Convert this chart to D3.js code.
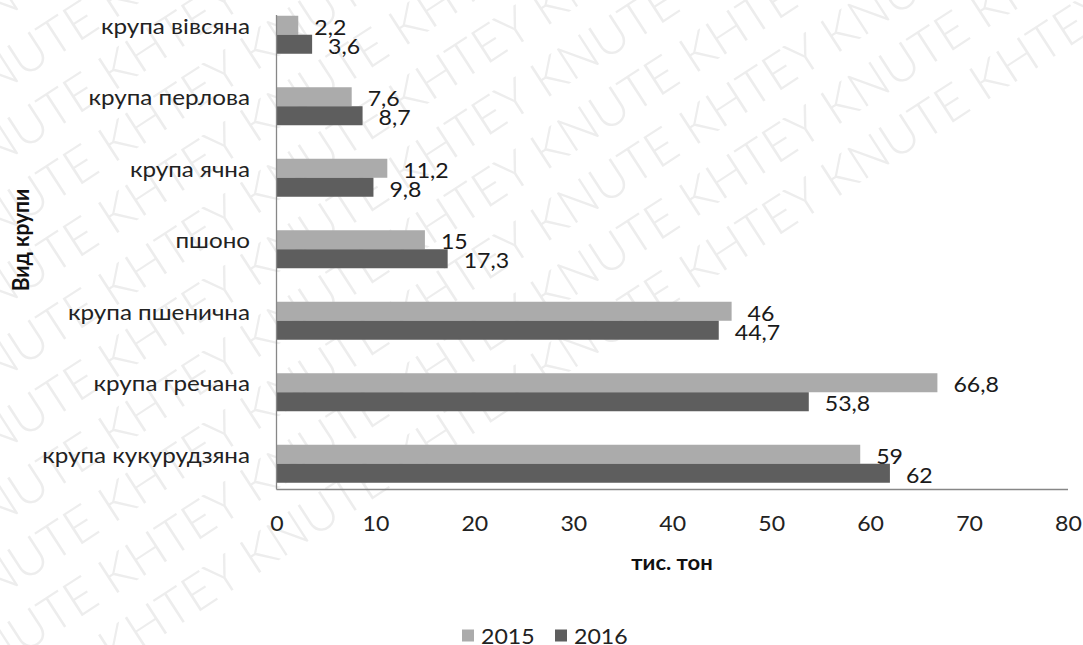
<!DOCTYPE html>
<html>
<head>
<meta charset="utf-8">
<script src="https://cdn.jsdelivr.net/npm/d3@7"></script>
<style>
  html, body { margin: 0; padding: 0; background: #fff; }
  svg { display: block; }
  text { font-family: Lato, "Open Sans", sans-serif; }
</style>
</head>
<body>
<svg id="chart" width="1083" height="645"></svg>
<script>
const categories = ["крупа вівсяна", "крупа перлова", "крупа ячна", "пшоно", "крупа пшенична", "крупа гречана", "крупа кукурудзяна"];
const seriesNames = ["2015", "2016"];
const values2015 = [2.2, 7.6, 11.2, 15, 46, 66.8, 59];
const values2016 = [3.6, 8.7, 9.8, 17.3, 44.7, 53.8, 62];
const xTicks = [0, 10, 20, 30, 40, 50, 60, 70, 80];
const xTitle = "тис. тон";
const yTitle = "Вид крупи";
const watermarkWords = ["KHTEY", "KNUTE"];

const colors = ["#ababab", "#5e5e5e"];
const SX = 1.1; // horizontal stretch of the reference image's text
const svg = d3.select("#chart");

// watermark
const wm = svg.append("g").attr("class", "watermark");
const wmLine = d3.range(14).map(i => watermarkWords[i % 2]).join(" ");
d3.range(-8, 14).forEach(i => {
  wm.append("text")
    .attr("transform", `translate(-300, ${i * 72}) rotate(-33)`)
    .attr("x", -200)
    .attr("y", 0)
    .attr("font-size", 50)
    .attr("font-weight", 300)
    .attr("fill", "#ededed")
    .attr("font-family", "Lato, 'Open Sans', sans-serif")
    .text(wmLine);
});

function stext(parent, x, y, str, opts) {
  const t = parent.append("text")
    .attr("transform", `translate(${x},${y}) scale(${opts.sx || SX},1)`)
    .attr("x", 0).attr("y", 0)
    .attr("font-size", opts.size)
    .attr("fill", opts.fill || "#1a1a1a")
    .attr("text-anchor", opts.anchor || "start")
    .text(str);
  if (opts.bold) t.attr("font-weight", "bold");
  return t;
}

const x = d3.scaleLinear().domain([0, 80]).range([276.5, 1068]);
const y = d3.scaleBand().domain(categories).range([-1, 499.5]).paddingInner(0).paddingOuter(0);
const barH = 19;

const data = categories.map((c, i) => ({ cat: c, vals: [values2015[i], values2016[i]] }));
const g = svg.append("g");

data.forEach(d => {
  const cy = y(d.cat) + y.bandwidth() / 2;
  d.vals.forEach((v, k) => {
    const top = cy - barH + k * barH;
    g.append("rect")
      .attr("x", x(0))
      .attr("y", top)
      .attr("width", x(v) - x(0))
      .attr("height", barH)
      .attr("fill", colors[k]);
    const capCenter = top + barH / 2 + 2;
    stext(g, x(v) + 16, capCenter + 0.36 * 21, String(v).replace(".", ","), { size: 21 });
  });
  stext(g, 250, cy - 7 + 0.27 * 22, d.cat, { size: 22, anchor: "end", fill: "#222" });
});

// axis lines
g.append("line").attr("x1", x(0)).attr("x2", x(0)).attr("y1", 15).attr("y2", 489.5)
  .attr("stroke", "#878787").attr("stroke-width", 1.3);
g.append("line").attr("x1", x(0)).attr("x2", x(80)).attr("y1", 489.5).attr("y2", 489.5)
  .attr("stroke", "#878787").attr("stroke-width", 1.3);

// x tick labels through the axis generator
const xAxis = d3.axisBottom(x).tickValues(xTicks).tickSize(0).tickPadding(0);
const ax = g.append("g").attr("transform", "translate(0, 0)").call(xAxis);
ax.select(".domain").remove();
ax.selectAll(".tick").each(function(dv) {
  const tick = d3.select(this);
  tick.select("text").remove();
  stext(tick, 0, 523 + 0.36 * 21, String(dv), { size: 21, anchor: "middle", fill: "#222" });
});

// titles
stext(g, 672, 565 + 0.25 * 20, xTitle, { size: 20, anchor: "middle", bold: true, fill: "#111" });
g.append("text").attr("transform", "translate(23, 240) rotate(-90) scale(1,1.05)")
  .attr("text-anchor", "middle").attr("dy", "0.25em")
  .attr("font-size", 21).attr("font-weight", "bold")
  .attr("fill", "#111").text(yTitle);

// legend
const leg = g.append("g");
const legX = [462, 555];
seriesNames.forEach((s, k) => {
  leg.append("rect").attr("x", legX[k]).attr("y", 629.5).attr("width", 12).attr("height", 12).attr("fill", colors[k]);
  stext(leg, legX[k] + 19, 636 + 0.36 * 21, s, { size: 21, fill: "#222" });
});
</script>
</body>
</html>
